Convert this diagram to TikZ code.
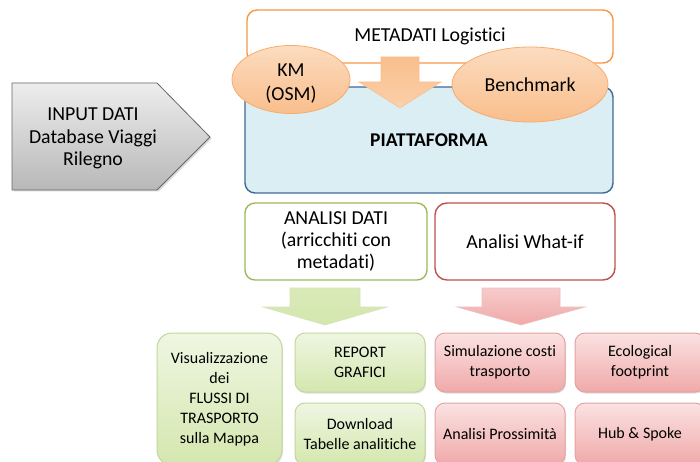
\documentclass[tikz,border=0pt]{standalone}
\usepackage{fontspec}
\setmainfont{Carlito}[Ligatures=NoCommon]
\usetikzlibrary{shapes.geometric,shadows}

\definecolor{metaline}{HTML}{F79646}
\definecolor{ovalfill}{HTML}{F9BE8C}
\definecolor{ovallight}{HTML}{FCDCC0}
\definecolor{platfill}{HTML}{DAEEF4}
\definecolor{platline}{HTML}{3D6A96}
\definecolor{greenline}{HTML}{9BBB59}
\definecolor{greensoft}{HTML}{C2D89A}
\definecolor{greentop}{HTML}{EFF6E2}
\definecolor{greenbot}{HTML}{D4E7AE}
\definecolor{redline}{HTML}{C0504D}
\definecolor{redsoft}{HTML}{E3A3A2}
\definecolor{redtop}{HTML}{FBE2E2}
\definecolor{redbot}{HTML}{F0A9A9}

\tikzset{
  bigfont/.style={font=\fontsize{19.8}{22}\selectfont},
  smallfont/.style={font=\fontsize{16}{20}\selectfont},
  topbox/.style={draw, line width=1.4pt, rounded corners=10pt, fill=white,
    minimum height=77pt, align=center, inner sep=0pt, bigfont},
  oval/.style={ellipse, draw=metaline!80, line width=0.8pt,
    top color=ovallight, bottom color=ovalfill, align=center, bigfont},
  greenbox/.style={draw=greensoft, line width=1pt, rounded corners=10pt,
    top color=greentop, bottom color=greenbot, minimum width=130pt,
    align=center, inner sep=0pt, smallfont,
    drop shadow={opacity=.25, shadow xshift=1pt, shadow yshift=-1.5pt}},
  redbox/.style={draw=redsoft, line width=1pt, rounded corners=10pt,
    top color=redtop, bottom color=redbot, minimum width=130pt,
    align=center, inner sep=0pt, smallfont,
    drop shadow={opacity=.25, shadow xshift=1pt, shadow yshift=-1.5pt}},
  orangearrow/.style={draw=metaline!60, line width=0.6pt,
    top color=ovalfill, bottom color=ovallight!60!ovalfill},
  greenarrow/.style={draw=greensoft!70, line width=0.6pt,
    top color=greenbot!80!greentop, bottom color=greenbot},
  redarrow/.style={draw=redsoft!70, line width=0.6pt,
    top color=redtop!60!redbot, bottom color=redbot},
}

\begin{document}
\begin{tikzpicture}[x=1pt, y=-1pt]
      \clip (0,0) rectangle (700,462);
      \useasboundingbox (0,0) rectangle (700,462);

      % input
      \draw[draw=black!60, line width=0.8pt, top color=black!7, bottom color=black!28,
            drop shadow={opacity=.3, shadow xshift=1.5pt, shadow yshift=-1.5pt}]
        (12,83) -- (157,83) -- (210,137) -- (157,190) -- (12,190) -- cycle;
      \node[align=center, font=\fontsize{19.8}{22.5}\selectfont] (input) at (93,138.5)
        {INPUT DATI\\Database Viaggi\\Rilegno};

      % platform
      \node[topbox, draw=metaline, minimum width=366pt, minimum height=53pt] (meta) at (430,36.5)
        {METADATI Logistici};
      \node[topbox, draw=platline, fill=platfill, minimum width=368pt, minimum height=106pt,
            font=\fontsize{19.5}{22}\selectfont\bfseries] (plat) at (429,140)
        {PIATTAFORMA};
      \node[oval, minimum width=118pt, minimum height=68pt] (km) at (291,79.5) {};
      \node[align=center, font=\fontsize{19.8}{24}\selectfont] (kmtext) at (291,84) {KM\\(OSM)};
      \node[oval, minimum width=156pt, minimum height=75pt] (bench) at (530,84.5) {Benchmark};

      \node[topbox, draw=greenline, minimum width=182pt] (ana) at (336,241.5)
        {ANALISI DATI\\(arricchiti con\\metadati)};
      \node[topbox, draw=redline, minimum width=180pt, rounded corners=12pt] (whatif) at (525,241.5)
        {Analisi What-if};

      % block arrows
      \foreach \cx/\sw/\hw/\yt/\yh/\yb/\col in {
            400/19/41/57/82/108/orange,
            325/35/62/288/307/325/green,
            521/39/64/288/307/325/red} {
        \draw[\col arrow] (\cx-\sw,\yt) -- (\cx+\sw,\yt) -- (\cx+\sw,\yh) -- (\cx+\hw,\yh)
          -- (\cx,\yb) -- (\cx-\hw,\yh) -- (\cx-\sw,\yh) -- cycle;
      }

      % results
      \node[greenbox, minimum width=125pt, minimum height=132pt, rounded corners=15pt] (vis) at (219.5,399)
        {Visualizzazione\\dei\\FLUSSI DI\\TRASPORTO\\sulla Mappa};
      \node[greenbox, minimum height=59pt] (report) at (360,362.5) {REPORT\\GRAFICI};
      \node[greenbox, minimum height=62pt] (download) at (360,434) {Download\\Tabelle analitiche};
      \node[redbox, minimum height=59pt] (sim) at (500,362.5) {Simulazione costi\\trasporto};
      \node[redbox, minimum height=59pt] (eco) at (640,362.5) {Ecological\\footprint};
      \node[redbox, minimum height=62pt] (prox) at (500,434) {Analisi Prossimità};
      \node[redbox, minimum height=62pt] (hub) at (640,434) {Hub \& Spoke};
\end{tikzpicture}
\end{document}
